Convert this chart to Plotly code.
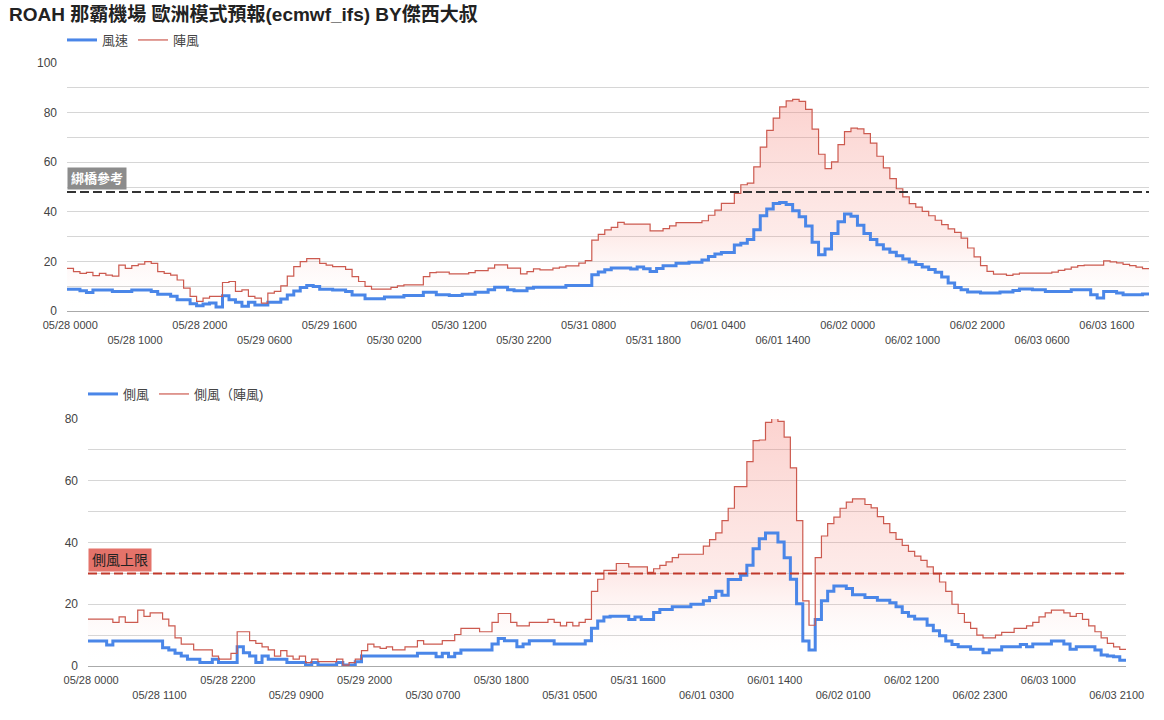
import pandas as pd
import plotly.graph_objects as go

TITLE = "ROAH 那霸機場 歐洲模式預報(ecmwf_ifs) BY傑西大叔"
START = "2025-05-28 00:00"

# top chart: wind speed / gust
wind = [
    8.8, 8.8, 8.2, 7.5, 8.5, 8.5, 8.5, 7.9, 7.9, 7.9,
    8.5, 8.5, 8.5, 7.9, 6.8, 6.8, 5.9, 4.5, 4.5, 2.9,
    2.1, 2.8, 3.2, 1.6, 6.1, 4.5, 3.5, 1.9, 3.5, 2.4,
    2.4, 3.5, 3.5, 4.8, 6.5, 8.1, 9.5, 10.3, 9.9, 8.8,
    8.8, 8.5, 8.5, 7.9, 6.5, 6.5, 4.9, 4.9, 4.9, 5.6,
    5.6, 5.6, 6.3, 6.3, 6.3, 7.6, 7.6, 6.6, 6.6, 6.2,
    6.2, 6.8, 6.8, 7.6, 7.6, 8.6, 9.6, 9.6, 8.6, 8.2,
    8.2, 9.2, 9.6, 9.6, 9.6, 9.6, 9.6, 10.3, 10.3, 10.3,
    10.3, 14.6, 15.7, 16.6, 17.3, 17.3, 17.3, 16.9, 17.7, 17.0,
    15.9, 17.1, 18.2, 18.2, 19.3, 19.3, 19.7, 19.7, 20.6, 22.0,
    23.0, 23.6, 23.6, 26.6, 27.3, 28.8, 32.8, 38.4, 41.1, 43.3,
    43.8, 42.9, 40.4, 38.0, 34.3, 27.7, 22.7, 25.0, 31.2, 36.0,
    39.1, 38.2, 34.6, 31.3, 28.8, 26.7, 25.0, 23.7, 22.3, 21.0,
    19.8, 18.7, 17.7, 16.7, 15.6, 13.7, 11.3, 9.5, 8.6, 7.7,
    7.7, 7.3, 7.3, 7.3, 7.7, 7.7, 8.3, 8.9, 8.9, 8.6,
    8.6, 7.9, 7.9, 7.9, 7.9, 8.6, 8.6, 8.6, 6.6, 5.2,
    7.9, 7.9, 7.3, 6.6, 6.6, 6.6, 6.9,
]
gust = [
    17.2, 15.9, 15.2, 15.6, 14.3, 15.2, 14.5, 14.1, 18.5, 17.2,
    18.3, 18.9, 19.9, 19.2, 15.9, 15.2, 14.5, 12.5, 9.2, 5.9,
    3.9, 5.2, 5.9, 5.9, 11.5, 11.9, 7.9, 8.5, 5.9, 5.2,
    3.2, 7.2, 7.9, 10.1, 14.1, 17.9, 19.9, 21.1, 21.1, 19.2,
    18.5, 17.9, 17.9, 16.8, 13.9, 11.9, 9.9, 8.8, 8.8, 8.8,
    9.5, 10.1, 10.5, 10.5, 10.5, 13.9, 15.5, 15.7, 15.7, 15.0,
    15.0, 15.0, 15.5, 16.3, 16.3, 17.3, 18.6, 18.6, 17.3, 17.3,
    15.0, 15.9, 17.0, 16.6, 16.6, 17.3, 17.7, 18.2, 18.2, 19.3,
    20.3, 28.6, 30.9, 32.7, 33.7, 35.7, 35.0, 35.0, 35.0, 35.0,
    32.3, 32.3, 33.2, 34.3, 35.6, 35.6, 35.6, 35.6, 36.4, 38.6,
    40.7, 43.4, 43.4, 47.4, 50.9, 51.6, 58.1, 66.1, 72.8, 77.8,
    82.3, 84.7, 85.3, 84.5, 81.3, 73.3, 63.2, 57.4, 60.1, 67.1,
    72.3, 73.7, 73.4, 71.5, 67.7, 62.4, 57.7, 53.4, 49.3, 46.0,
    43.3, 41.9, 40.2, 38.4, 36.6, 34.8, 33.1, 31.7, 29.4, 25.4,
    21.8, 18.3, 16.0, 14.9, 14.9, 14.4, 14.9, 15.3, 15.3, 15.3,
    15.3, 15.3, 15.7, 16.4, 16.9, 17.7, 18.3, 18.5, 18.5, 18.5,
    20.2, 19.8, 19.4, 18.8, 18.3, 17.7, 17.1,
]

# bottom chart: crosswind / crosswind gust
cross = [
    8.1, 8.1, 8.1, 6.8, 8.1, 8.1, 8.1, 8.1, 8.1, 8.1,
    8.1, 8.1, 5.9, 5.2, 4.1, 3.2, 2.2, 2.2, 1.1, 1.1,
    2.2, 1.1, 1.1, 1.1, 6.2, 4.3, 3.2, 1.1, 3.2, 2.2,
    2.2, 2.2, 1.1, 1.1, 1.1, 0.3, 1.1, 0.3, 0.3, 0.3,
    1.1, 0.3, 0.3, 1.4, 3.2, 3.2, 3.2, 3.2, 3.2, 3.2,
    3.2, 3.2, 3.2, 4.1, 4.1, 4.1, 3.0, 4.1, 3.0, 4.1,
    5.2, 5.2, 5.2, 5.2, 5.2, 7.1, 8.9, 8.2, 8.2, 6.2,
    7.1, 8.2, 8.2, 8.2, 8.2, 7.1, 7.1, 7.1, 7.1, 7.1,
    8.2, 12.2, 14.6, 15.9, 16.1, 16.1, 16.1, 15.1, 15.9, 15.1,
    15.1, 17.3, 18.3, 18.3, 19.2, 19.2, 19.2, 20.0, 20.0, 21.1,
    22.2, 24.2, 22.9, 28.0, 28.0, 29.4, 32.6, 38.0, 41.2, 43.1,
    43.1, 40.2, 35.1, 28.1, 20.2, 8.1, 5.2, 15.1, 21.1, 24.2,
    25.9, 25.9, 25.1, 23.1, 23.1, 22.2, 22.2, 21.3, 21.3, 20.5,
    19.2, 17.3, 16.1, 15.2, 15.2, 13.2, 11.4, 9.8, 8.1, 7.0,
    6.2, 6.2, 5.4, 5.4, 4.3, 5.2, 5.2, 6.2, 6.2, 6.2,
    7.0, 6.2, 7.1, 7.1, 7.1, 8.1, 8.1, 7.1, 5.4, 6.2,
    6.2, 6.2, 5.2, 3.6, 3.2, 3.0, 1.9,
]
cross_gust = [
    15.2, 15.2, 15.2, 15.2, 14.1, 15.9, 14.1, 14.1, 18.1, 16.1,
    17.2, 17.2, 15.2, 13.0, 9.1, 7.1, 7.1, 5.2, 5.2, 5.2,
    3.2, 2.2, 2.2, 4.1, 11.1, 11.1, 8.2, 7.3, 6.2, 5.2,
    3.2, 5.0, 3.2, 2.2, 3.2, 1.1, 2.2, 1.4, 1.4, 1.4,
    2.2, 0.3, 1.1, 2.2, 5.0, 7.1, 6.2, 5.7, 6.2, 5.2,
    5.2, 6.2, 6.2, 8.2, 7.1, 7.1, 7.1, 8.2, 8.2, 10.2,
    12.2, 12.2, 12.2, 11.1, 11.1, 14.1, 17.0, 17.0, 14.1, 13.0,
    13.0, 14.1, 14.1, 14.1, 15.1, 14.1, 13.0, 14.1, 13.0, 14.1,
    15.1, 24.2, 28.1, 31.0, 31.0, 33.2, 33.2, 32.1, 32.1, 32.1,
    30.3, 31.5, 32.6, 33.7, 35.1, 36.2, 36.2, 36.2, 36.2, 38.8,
    40.9, 43.1, 47.1, 51.1, 58.1, 58.1, 66.2, 73.0, 73.2, 78.9,
    80.2, 79.2, 74.1, 64.2, 47.1, 21.1, 13.2, 35.1, 42.1, 46.1,
    48.2, 51.1, 53.1, 54.1, 54.1, 52.3, 51.2, 48.4, 46.1, 43.2,
    41.0, 39.1, 37.1, 35.6, 34.2, 32.1, 29.9, 27.2, 24.2, 20.0,
    17.0, 14.1, 12.2, 10.0, 9.1, 9.1, 10.0, 10.9, 10.9, 12.2,
    12.2, 13.0, 14.1, 15.9, 17.2, 18.1, 18.1, 17.2, 16.1, 17.0,
    15.1, 13.0, 11.1, 9.1, 7.3, 6.2, 5.4,
]

BRIDGE_REF = 48
BRIDGE_LABEL = "綁橋參考"
CROSS_LIMIT = 30
CROSS_LABEL = "側風上限"
TOP_NAMES = ["風速", "陣風"]
BOT_NAMES = ["側風", "側風（陣風)"]
TOP_TICK_EVERY = 10
BOT_TICK_EVERY = 11

n = len(wind)
times = pd.date_range(START, periods=n, freq="h")
labels = list(times.strftime("%m/%d %H%M"))

def steps(vals):
    xs = list(range(len(vals))) + [len(vals)]
    ys = list(vals) + [vals[-1]]
    return xs, ys

def ticks(every):
    idx = list(range(0, n, every))
    vals = [i + 0.5 for i in idx]
    text = [labels[i] if j % 2 == 0 else " <br>" + labels[i] for j, i in enumerate(idx)]
    return vals, text

FONT = "Liberation Sans, Arial, Noto Sans CJK TC, sans-serif"
BLUE = "#4a86e8"
RED = "#cc5a4f"
GRAD = dict(type="vertical",
            colorscale=[[0, "rgba(255,255,255,0)"], [0.35, "rgba(246,140,130,0.17)"],
                        [1, "rgba(244,120,110,0.33)"]])

fig = go.Figure()

def add_pair(v_main, v_gust, names, xa, ya, legend):
    gx, gy = steps(v_gust)
    fig.add_trace(go.Scatter(x=gx, y=gy, xaxis=xa, yaxis=ya, mode="lines", line_shape="hv",
                             line=dict(width=0), fill="tozeroy",
                             fillgradient=dict(GRAD, start=0, stop=max(v_gust)),
                             showlegend=False, hoverinfo="skip"))
    mx, my = steps(v_main)
    fig.add_trace(go.Scatter(x=mx, y=my, xaxis=xa, yaxis=ya, mode="lines", line_shape="hv",
                             line=dict(color=BLUE, width=3), name=names[0], legend=legend))
    fig.add_trace(go.Scatter(x=gx, y=gy, xaxis=xa, yaxis=ya, mode="lines", line_shape="hv",
                             line=dict(color=RED, width=1.2), name=names[1], legend=legend))

add_pair(wind, gust, TOP_NAMES, "x", "y", "legend")
add_pair(cross, cross_gust, BOT_NAMES, "x2", "y2", "legend2")

W, H = 1164, 720
tv1, tt1 = ticks(TOP_TICK_EVERY)
tv2, tt2 = ticks(BOT_TICK_EVERY)

axis_font = dict(family=FONT, size=11, color="#444")
xcommon = dict(range=[0, n], showgrid=False, zeroline=False, showline=True, linecolor="#aaaaaa",
               ticks="", tickfont=axis_font, tickangle=0, ticklabelstandoff=4, automargin=False)
ycommon = dict(showgrid=True, gridcolor="#d6d6d6", zeroline=False, ticks="", automargin=False,
               tickfont=dict(family=FONT, size=12, color="#444"), ticklabelstandoff=9,
               minor=dict(dtick=10, showgrid=True, gridcolor="#d6d6d6"))

fig.update_layout(
    width=W, height=H, margin=dict(l=0, r=0, t=0, b=0, autoexpand=False),
    paper_bgcolor="white", plot_bgcolor="white",
    font=dict(family=FONT, color="#444"),
    title=dict(text="<b>" + TITLE + "</b>", x=9 / W, xanchor="left", y=1 - 14 / H, yanchor="middle",
               font=dict(family=FONT, size=19, color="#222"), automargin=False),
    xaxis=dict(xcommon, domain=[67 / W, 1149 / W], anchor="y", tickvals=tv1, ticktext=tt1),
    yaxis=dict(ycommon, domain=[(H - 311) / H, (H - 63) / H], anchor="x", range=[0, 100], dtick=20),
    xaxis2=dict(xcommon, domain=[88 / W, 1126 / W], anchor="y2", tickvals=tv2, ticktext=tt2),
    yaxis2=dict(ycommon, domain=[(H - 666) / H, (H - 419) / H], anchor="x2", range=[0, 80], dtick=20),
    legend=dict(orientation="h", x=62 / W, xanchor="left", y=1 - 40 / H, yanchor="middle",
                font=dict(family=FONT, size=13, color="#444"), itemwidth=30,
                bgcolor="rgba(0,0,0,0)"),
    legend2=dict(orientation="h", x=83 / W, xanchor="left", y=1 - 394 / H, yanchor="middle",
                 font=dict(family=FONT, size=13, color="#444"), itemwidth=30,
                 bgcolor="rgba(0,0,0,0)"),
    shapes=[
        dict(type="line", xref="x domain", yref="y", x0=0, x1=1, y0=BRIDGE_REF, y1=BRIDGE_REF,
             line=dict(color="#333", width=2, dash="9px,4px")),
        dict(type="line", xref="x2 domain", yref="y2", x0=0, x1=1, y0=CROSS_LIMIT, y1=CROSS_LIMIT,
             line=dict(color="#c0392b", width=2, dash="9px,4px")),
    ],
    annotations=[
        dict(text="<b>" + BRIDGE_LABEL + "</b>", xref="x domain", yref="y", x=0, y=BRIDGE_REF,
             xanchor="left", yanchor="bottom", yshift=2, showarrow=False, bgcolor="#8c8c8c",
             borderpad=3, font=dict(family=FONT, size=13, color="white")),
        dict(text=CROSS_LABEL, xref="x2 domain", yref="y2", x=0, y=CROSS_LIMIT, xanchor="left",
             yanchor="bottom", yshift=1, showarrow=False, bgcolor="#e4736a", borderpad=3,
             font=dict(family=FONT, size=14, color="#222")),
    ],
)

fig.write_html("out.html")
